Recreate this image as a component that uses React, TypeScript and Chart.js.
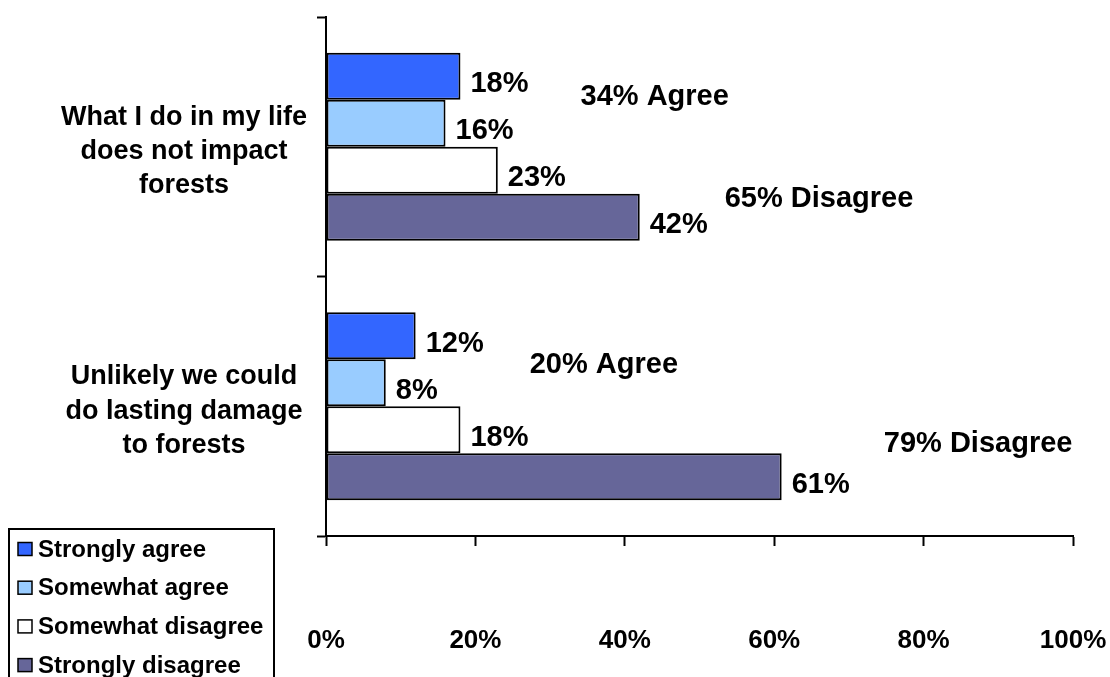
import React, { useEffect, useRef } from "react";
import { Chart, registerables } from "chart.js";

Chart.register(...registerables);

const categories: string[][] = [
  ["What I do in my life", "does not impact", "forests"],
  ["Unlikely we could", "do lasting damage", "to forests"],
];
const seriesNames = ["Strongly agree", "Somewhat agree", "Somewhat disagree", "Strongly disagree"];
const stronglyAgree = [18, 12];
const somewhatAgree = [16, 8];
const somewhatDisagree = [23, 18];
const stronglyDisagree = [42, 61];
const seriesColors = ["#3366FF", "#99CCFF", "#FFFFFF", "#666699"];
const xTicks = [0, 20, 40, 60, 80, 100];

// summary annotations: [x value on scale, y position in category units]
const agreeAnchor = [
  [44.0, -0.162],
  [37.2, 0.871],
];
const disagreeAnchor = [
  [66.0, 0.231],
  [87.3, 1.175],
];

const FONT = "'Liberation Sans', Arial, Helvetica, sans-serif";

const zeroPadding = (scale: any) => {
  scale.paddingTop = 0;
  scale.paddingBottom = 0;
  scale.paddingLeft = 0;
  scale.paddingRight = 0;
};

const labelsPlugin = {
  id: "customLabels",
  afterDatasetsDraw(chart: any) {
    const ctx = chart.ctx;
    ctx.save();
    ctx.fillStyle = "#000";
    ctx.font = `bold 29px ${FONT}`;
    ctx.textAlign = "left";
    ctx.textBaseline = "alphabetic";
    chart.data.datasets.forEach((ds: any, di: number) => {
      const meta = chart.getDatasetMeta(di);
      meta.data.forEach((bar: any, i: number) => {
        ctx.fillText(`${ds.data[i]}%`, bar.x + 10, bar.y + 16);
      });
    });
    const xs = chart.scales.x;
    const ys = chart.scales.y;
    ctx.textAlign = "center";
    categories.forEach((_, i) => {
      const agree = stronglyAgree[i] + somewhatAgree[i];
      const disagree = somewhatDisagree[i] + stronglyDisagree[i];
      ctx.fillText(
        `${agree}% Agree`,
        xs.getPixelForValue(agreeAnchor[i][0]),
        ys.getPixelForValue(agreeAnchor[i][1])
      );
      ctx.fillText(
        `${disagree}% Disagree`,
        xs.getPixelForValue(disagreeAnchor[i][0]),
        ys.getPixelForValue(disagreeAnchor[i][1])
      );
    });
    // x tick labels
    ctx.font = `bold 26px ${FONT}`;
    ctx.textAlign = "center";
    ctx.textBaseline = "alphabetic";
    xTicks.forEach((v) => {
      ctx.fillText(`${v}%`, xs.getPixelForValue(v), xs.top + 112);
    });
    ctx.restore();
  },
  afterDraw(chart: any) {
    const ctx = chart.ctx;
    ctx.save();
    ctx.strokeStyle = "#000";
    ctx.lineWidth = 2;
    ctx.strokeRect(9, 529, 265, 170);
    ctx.font = `bold 24px ${FONT}`;
    ctx.textAlign = "left";
    ctx.textBaseline = "middle";
    chart.data.datasets.forEach((ds: any, i: number) => {
      const cy = 549 + i * 38.7;
      ctx.fillStyle = ds.backgroundColor;
      ctx.fillRect(18, cy - 6.5, 14, 13);
      ctx.lineWidth = 1.5;
      ctx.strokeStyle = "#000";
      ctx.strokeRect(18, cy - 6.5, 14, 13);
      ctx.fillStyle = "#000";
      ctx.fillText(ds.label, 38, cy + 1);
    });
    ctx.restore();
  },
};

export default function App() {
  const canvasRef = useRef<HTMLCanvasElement | null>(null);

  useEffect(() => {
    const canvas = canvasRef.current;
    if (!canvas) return;
    const values = [stronglyAgree, somewhatAgree, somewhatDisagree, stronglyDisagree];
    const chart = new Chart(canvas, {
      type: "bar",
      data: {
        labels: categories,
        datasets: seriesNames.map((name, i) => ({
          label: name,
          data: values[i],
          backgroundColor: seriesColors[i],
          borderColor: "#000",
          borderWidth: 2,
          borderSkipped: false,
          categoryPercentage: 0.725,
          barPercentage: 1.0,
        })),
      },
      options: {
        indexAxis: "y",
        responsive: false,
        animation: false,
        events: [],
        layout: { padding: { top: 17, right: 37, left: 0, bottom: 0 } },
        plugins: {
          legend: { display: false },
          tooltip: { enabled: false },
        },
        scales: {
          x: {
            min: 0,
            max: 100,
            afterBuildTicks: (scale: any) => {
              scale.ticks = xTicks.map((v) => ({ value: v }));
            },
            afterFit: (scale: any) => {
              scale.height = 141;
              zeroPadding(scale);
            },
            grid: {
              drawOnChartArea: false,
              color: "#000",
              tickLength: 10,
              tickWidth: 2,
            },
            border: { color: "#000", width: 2 },
            ticks: { display: false },
          },
          y: {
            afterFit: (scale: any) => {
              scale.width = 326;
              zeroPadding(scale);
            },
            grid: {
              drawOnChartArea: false,
              offset: true,
              color: "#000",
              tickLength: 9,
              tickWidth: 2,
            },
            border: { color: "#000", width: 2 },
            ticks: {
              color: "#000",
              crossAlign: "center",
              padding: 10,
              labelOffset: 5,
              font: { family: FONT, size: 27, weight: "bold", lineHeight: 1.27 },
            },
          },
        },
      },
      plugins: [labelsPlugin],
    } as any);
    return () => chart.destroy();
  }, []);

  return (
    <div style={{ position: "absolute", left: 0, top: 0, width: 1110, height: 677, background: "#fff" }}>
      <canvas ref={canvasRef} width={1110} height={677} style={{ display: "block" }} />
    </div>
  );
}
